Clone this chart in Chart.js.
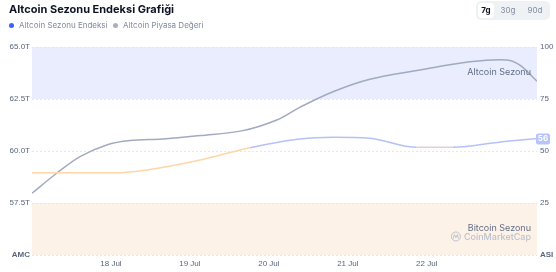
<!DOCTYPE html>
<html>
<head>
<meta charset="utf-8">
<script src="https://cdn.jsdelivr.net/npm/chart.js@4.4.1/dist/chart.umd.min.js"></script>
<style>
  body { margin: 0; background: #fff; font-family: Inter, "Noto Sans", sans-serif; }
  #wrap { position: relative; width: 556px; height: 272px; }
  #chart { position: absolute; left: 0; top: 0; }
  .title { position: absolute; left: 9px; top: 2px; font-size: 11px; font-weight: 700; color: #0d1421; }
  .legend { position: absolute; top: 20px; font-size: 8px; color: #808a9d; display: flex; align-items: center; }
  .legend i { display: inline-block; width: 5px; height: 5px; border-radius: 50%; margin-right: 5px; }
  .tabs { position: absolute; left: 476px; top: 1px; width: 74px; height: 19px; background: #eff2f5; border-radius: 5px; }
  .tabs span { position: absolute; top: 2px; height: 15px; line-height: 15px; font-size: 8px; color: #808a9d; text-align: center; }
  .tabs .on { background: #fff; color: #0d1421; font-weight: 700; border-radius: 4px; }
</style>
</head>
<body>
<div id="wrap">
  <canvas id="chart" width="556" height="272"></canvas>
  <div class="title">Altcoin Sezonu Endeksi Grafiği</div>
  <div class="legend" style="left:9px;"><i style="background:#3861fb"></i>Altcoin Sezonu Endeksi</div>
  <div class="legend" style="left:113px;"><i style="background:#a6b0c3"></i>Altcoin Piyasa Değeri</div>
  <div class="tabs">
    <span class="on" style="left:2px;width:16px;">7g</span>
    <span style="left:22px;width:20px;">30g</span>
    <span style="left:49px;width:20px;">90d</span>
  </div>
</div>
<script>
// hours since 17 Jul 00:00
const capHours = [0, 7.5, 14.6, 22.7, 29.8, 39.8, 51.1, 64.1, 74.4, 81.4, 91.5, 102.7, 117.9, 133.1, 144.3, 148.3, 153.5];
const capValues = [57.97, 58.93, 59.73, 60.29, 60.5, 60.58, 60.74, 60.98, 61.49, 62.1, 62.85, 63.45, 63.89, 64.29, 64.38, 64.13, 63.35];
const indexHours = [0, 13, 26.7, 34.9, 51.1, 66.2, 81.4, 91.5, 102.7, 116.9, 127.9, 143.1, 153.5];
const indexValues = [39.6, 39.6, 39.6, 40.9, 45.7, 51.6, 55.8, 56.6, 56.1, 51.8, 51.8, 54.5, 56];
const dayTicks = [24, 48, 72, 96, 120];
const dayLabels = ['18 Jul', '19 Jul', '20 Jul', '21 Jul', '22 Jul'];
const capTicks = [55, 57.5, 60, 62.5, 65];
const indexTicks = [0, 25, 50, 75, 100];

const tickColor = '#58667e';

const bandsPlugin = {
    id: 'bands',
    beforeDraw(chart) {
        const { ctx, chartArea } = chart;
        const y = chart.scales.yR;
        ctx.save();
        ctx.fillStyle = '#e9edfd';
        ctx.fillRect(chartArea.left, y.getPixelForValue(100), chartArea.width, y.getPixelForValue(75) - y.getPixelForValue(100));
        ctx.fillStyle = '#fdf2e8';
        ctx.fillRect(chartArea.left, y.getPixelForValue(25), chartArea.width, y.getPixelForValue(0) - y.getPixelForValue(25));
        ctx.restore();
    },
    afterDatasetsDraw(chart) {
        const { ctx, chartArea } = chart;
        const right = chartArea.right - 6;
        ctx.save();
        ctx.textAlign = 'right';
        ctx.textBaseline = 'middle';
        ctx.font = '9px Inter, "Noto Sans", sans-serif';
        ctx.fillStyle = '#616e85';
        ctx.fillText('Altcoin Sezonu', right, 72);
        ctx.fillText('Bitcoin Sezonu', right, 228);
        ctx.fillStyle = '#bcc2ce';
        ctx.font = '500 9px Inter, "Noto Sans", sans-serif';
        ctx.fillText('CoinMarketCap', right, 237);
        const w = ctx.measureText('CoinMarketCap').width;
        ctx.strokeStyle = '#bcc2ce';
        ctx.lineWidth = 1;
        ctx.beginPath();
        ctx.arc(right - w - 8, 236.5, 4.5, 0, Math.PI * 2);
        ctx.stroke();
        ctx.beginPath();
        ctx.moveTo(right - w - 10.5, 238.5);
        ctx.lineTo(right - w - 9.5, 234.5);
        ctx.lineTo(right - w - 8, 237.5);
        ctx.lineTo(right - w - 6.5, 234.5);
        ctx.lineTo(right - w - 5.5, 238.5);
        ctx.stroke();

        // current value badge
        const last = indexValues[indexValues.length - 1];
        const py = chart.scales.yR.getPixelForValue(last);
        ctx.fillStyle = '#b7c3fa';
        ctx.beginPath();
        ctx.roundRect(chartArea.right - 1, py - 5, 14, 11, 2);
        ctx.fill();
        ctx.fillStyle = '#fff';
        ctx.textAlign = 'center';
        ctx.font = 'bold 8px Inter, "Noto Sans", sans-serif';
        ctx.fillText(String(last), chartArea.right + 6, py + 0.5);
        ctx.restore();
    }
};

const orange = '#fdd6aa';
const blue = '#b5c1f8';
const faint = '#e2cfd8';

new Chart(document.getElementById('chart'), {
    type: 'line',
    data: {
        datasets: [{
            label: 'Altcoin Sezonu Endeksi',
            data: indexHours.map((h, i) => ({ x: h, y: indexValues[i] })),
            yAxisID: 'yR',
            borderColor: blue,
            borderWidth: 1.5,
            pointRadius: 0,
            cubicInterpolationMode: 'monotone',
            segment: {
                borderColor: c => {
                    const a = c.p0.parsed.y, b = c.p1.parsed.y;
                    if ((a + b) / 2 < 50) return orange;
                    if (a < 52 && b < 52) return faint;
                    return blue;
                }
            }
        }, {
            label: 'Altcoin Piyasa Değeri',
            data: capHours.map((h, i) => ({ x: h, y: capValues[i] })),
            yAxisID: 'yL',
            borderColor: '#a1aac1',
            borderWidth: 1.5,
            pointRadius: 0,
            tension: 0.35
        }]
    },
    options: {
        responsive: false,
        animation: false,
        layout: { padding: { top: 47 } },
        plugins: { legend: { display: false }, tooltip: { enabled: false } },
        scales: {
            x: {
                type: 'linear',
                min: 0,
                max: 153.5,
                afterBuildTicks: axis => { axis.ticks = dayTicks.map(v => ({ value: v })); },
                afterFit: axis => { axis.height = 17; },
                grid: { display: false, drawTicks: false },
                border: { display: false },
                ticks: {
                    autoSkip: false,
                    maxRotation: 0,
                    padding: 4,
                    color: tickColor,
                    font: { size: 8 },
                    callback: v => dayLabels[dayTicks.indexOf(v)]
                }
            },
            yL: {
                position: 'left',
                min: 55,
                max: 65,
                afterBuildTicks: axis => { axis.ticks = capTicks.map(v => ({ value: v })); },
                afterFit: axis => { axis.width = 32; },
                grid: { color: '#e3e7ee', drawTicks: false },
                border: { display: false, dash: [2, 2] },
                ticks: {
                    padding: 2,
                    color: tickColor,
                    font: c => ({ size: 8, weight: c.tick && c.tick.value === 55 ? 'bold' : 'normal' }),
                    callback: v => v === 55 ? 'AMC' : v.toFixed(1) + 'T'
                }
            },
            yR: {
                position: 'right',
                min: 0,
                max: 100,
                afterBuildTicks: axis => { axis.ticks = indexTicks.map(v => ({ value: v })); },
                afterFit: axis => { axis.width = 19; },
                grid: { display: false, drawTicks: false },
                border: { display: false },
                ticks: {
                    padding: 3,
                    color: tickColor,
                    font: c => ({ size: 8, weight: c.tick && c.tick.value === 0 ? 'bold' : 'normal' }),
                    callback: v => v === 0 ? 'ASI' : v
                }
            }
        }
    },
    plugins: [bandsPlugin]
});
</script>
</body>
</html>
